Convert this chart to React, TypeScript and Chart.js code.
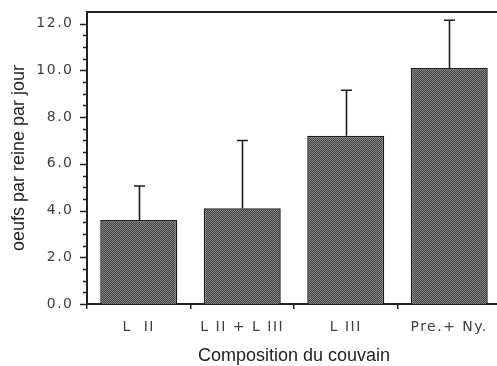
import React, { useEffect, useRef } from 'react';
import { Chart, registerables } from 'chart.js';

Chart.register(...registerables);

const categories = ['L  II', 'L II + L III', 'L III', 'Pre.+ Ny.'];
const means = [3.6, 4.1, 7.2, 10.1];
const errors = [1.45, 2.9, 1.95, 2.05];
const yMin = 0;
const yMax = 12.5;
const yMajorStep = 2;
const yMinorStep = 0.5;
const xTitle = 'Composition du couvain';
const yTitle = 'oeufs par reine par jour';

function isMajor(v: number) {
  const r = v / yMajorStep;
  return Math.abs(r - Math.round(r)) < 1e-9;
}

function makePattern(): CanvasPattern | string {
  const c = document.createElement('canvas');
  c.width = 2;
  c.height = 2;
  const g = c.getContext('2d');
  if (!g) return '#5a5a5a';
  g.fillStyle = '#434343';
  g.fillRect(0, 0, 2, 2);
  g.fillStyle = '#858585';
  g.fillRect(0, 0, 1, 1);
  g.fillRect(1, 1, 1, 1);
  return g.createPattern(c, 'repeat') || '#5a5a5a';
}

const framePlugin = {
  id: 'frameTicksErrors',
  beforeDatasetsDraw(chart: any) {
    const { ctx, chartArea, scales } = chart;
    const y = scales.y;
    ctx.save();
    ctx.strokeStyle = '#222';
    ctx.lineWidth = 1.5;
    for (let v = yMin; v <= 12 + 1e-9; v += yMinorStep) {
      const py = Math.round(y.getPixelForValue(v)) + 0.5;
      const len = isMajor(v) ? 7 : 4;
      ctx.beginPath();
      ctx.moveTo(chartArea.left, py);
      ctx.lineTo(chartArea.left - len, py);
      ctx.stroke();
    }
    ctx.lineWidth = 2;
    ctx.beginPath();
    ctx.moveTo(chartArea.left - 1, chartArea.top);
    ctx.lineTo(chartArea.right, chartArea.top);
    ctx.stroke();
    ctx.restore();
  },
  afterDatasetsDraw(chart: any) {
    const { ctx, scales } = chart;
    const y = scales.y;
    const meta = chart.getDatasetMeta(0);
    ctx.save();
    ctx.strokeStyle = '#1e1e1e';
    ctx.lineWidth = 1.6;
    meta.data.forEach((el: any, i: number) => {
      const top = y.getPixelForValue(means[i] + errors[i]);
      const x = Math.round(el.x) + 0.5;
      ctx.beginPath();
      ctx.moveTo(x, el.y);
      ctx.lineTo(x, top);
      ctx.moveTo(x - 5.5, top);
      ctx.lineTo(x + 5.5, top);
      ctx.stroke();
    });
    ctx.restore();
    ctx.letterSpacing = '1.5px';
  },
  afterDraw(chart: any) {
    chart.ctx.letterSpacing = '0px';
  },
};

export default function App() {
  const ref = useRef<HTMLCanvasElement>(null);
  useEffect(() => {
    if (!ref.current) return;
    const chart = new Chart(ref.current, {
      type: 'bar',
      data: {
        labels: categories,
        datasets: [
          {
            data: means,
            backgroundColor: makePattern() as any,
            borderColor: '#1a1a1a',
            borderWidth: 1.5,
            barPercentage: 0.744,
            categoryPercentage: 1,
          },
        ],
      },
      options: {
        responsive: false,
        animation: false,
        layout: { padding: { top: 12, right: 9, left: 0, bottom: 0 } },
        plugins: {
          legend: { display: false },
          tooltip: { enabled: false },
        },
        scales: {
          x: {
            grid: {
              display: true,
              drawOnChartArea: false,
              drawTicks: true,
              tickLength: 5,
              color: '#222',
              lineWidth: 1.5,
              offset: true,
            },
            border: { display: true, color: '#222', width: 2 },
            ticks: {
              z: 1,
              padding: 10,
              color: '#3f3f3f',
              font: { family: 'DejaVu Sans', size: 14 },
              maxRotation: 0,
            },
            title: {
              display: true,
              text: xTitle,
              color: '#222',
              font: { family: 'Liberation Sans', size: 18, lineHeight: 1.1 },
              padding: { top: 0, bottom: 0 },
            },
            afterFit(scale: any) {
              scale.height = 62;
            },
          },
          y: {
            min: yMin,
            max: yMax,
            grid: { display: false, drawTicks: true, tickLength: 11.5 },
            border: { display: true, color: '#222', width: 2 },
            ticks: {
              z: 1,
              stepSize: yMinorStep,
              autoSkip: false,
              padding: 2,
              color: '#3f3f3f',
              font: { family: 'DejaVu Sans', size: 14 },
              callback: (v: any) => (isMajor(Number(v)) ? Number(v).toFixed(1) : ''),
            },
            title: {
              display: true,
              text: yTitle,
              color: '#222',
              font: { family: 'Liberation Sans', size: 18 },
              padding: { top: 8, bottom: 0 },
            },
            afterFit(scale: any) {
              scale.width = 87;
            },
          },
        },
      },
      plugins: [framePlugin],
    });
    return () => chart.destroy();
  }, []);
  return (
    <div
      style={{
        position: 'fixed',
        left: 0,
        top: 0,
        width: 497,
        height: 366,
        overflow: 'hidden',
        background: '#fff',
      }}
    >
      <canvas ref={ref} width={510} height={366} style={{ width: 510, height: 366, display: 'block' }} />
    </div>
  );
}
